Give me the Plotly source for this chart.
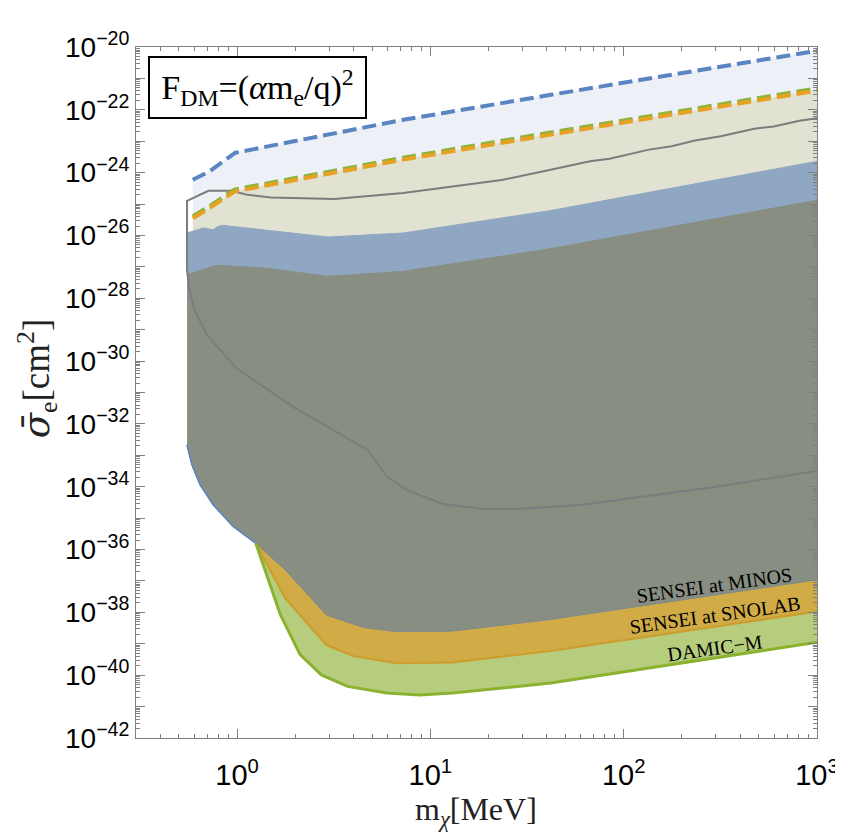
import numpy as np
import plotly.graph_objects as go

# ---------------- data ----------------
# upper (dashed) boundaries
bd_x = [0.59, 0.72, 0.98, 7.24, 41.9, 1000]
bd_y = [5.9e-25, 1.1e-24, 4.3e-24, 4.8e-23, 3.0e-22, 7.6e-21]          # SENSEI at MINOS (dashed)

od_x = [0.59, 0.70, 0.97, 7.24, 41.9, 1000]
od_y = [3.5e-26, 6.6e-26, 2.5e-25, 2.6e-24, 1.62e-23, 4.1e-22]         # SENSEI at SNOLAB (dashed)
gd_y = [4.1e-26, 7.7e-26, 2.9e-25, 3.0e-24, 1.9e-23, 4.8e-22]          # DAMIC-M (dashed)

# top of blue band (SENSEI at MINOS ceiling)
bt_x = [0.553, 0.591, 0.670, 0.753, 0.798, 0.847, 1.406, 2.95, 7.24, 41.9, 1000]
bt_y = [1.2e-26, 1.35e-26, 1.74e-26, 1.51e-26, 1.95e-26, 2.09e-26, 1.51e-26, 8.9e-27, 1.2e-26, 6.2e-26, 2.3e-24]

# top of grey (overlap) region
gt_x = [0.551, 0.783, 1.406, 2.95, 7.24, 41.9, 1000]
gt_y = [5.6e-28, 1.12e-27, 9.1e-28, 5.0e-28, 7.2e-28, 3.8e-27, 1.32e-25]

# floors (sensitivity)
mf_x = [0.551, 0.584, 0.644, 0.753, 0.953, 1.25, 1.778, 2.90, 4.54, 6.70, 13.0, 41.9, 1000]
mf_y = [2.14e-33, 5.0e-34, 1.15e-34, 2.63e-35, 5.5e-36, 1.58e-36, 2.24e-37, 8.3e-39, 3.3e-39,
        2.45e-39, 2.57e-39, 6.0e-39, 1.10e-37]                        # SENSEI at MINOS

sf_x = [1.25, 1.778, 2.90, 4.03, 6.70, 13.0, 41.9, 1000]
sf_y = [1.58e-36, 2.8e-38, 9.1e-40, 4.0e-40, 2.4e-40, 2.57e-40, 5.9e-40, 1.07e-38]  # SENSEI at SNOLAB

df_x = [1.25, 1.677, 2.12, 2.73, 3.73, 5.96, 8.81, 13.0, 41.9, 1000]
df_y = [1.58e-36, 8.3e-39, 4.5e-40, 1.02e-40, 4.4e-41, 2.7e-41, 2.35e-41, 2.7e-41, 5.6e-41, 1.12e-39]  # DAMIC-M

# grey contour
gc_x = [1000, 811, 598, 473, 318, 234, 177, 135, 84.6, 67.0, 41.9, 23.4, 7.24, 3.19, 1.492, 1.113,
        0.934, 0.711, 0.551, 0.551, 0.565, 0.596, 0.697, 0.990, 1.406, 2.00, 4.72, 5.94, 7.51,
        11.6, 18.5, 29.5, 59.6, 131, 283, 620, 1000]
gc_y = [5.4e-23, 4.5e-23, 2.95e-23, 2.5e-23, 1.45e-23, 1.05e-23, 6.9e-24, 5.4e-24, 2.75e-24, 2.3e-24,
        1.23e-24, 5.8e-25, 2.24e-25, 1.45e-25, 1.62e-25, 2.0e-25, 2.63e-25, 2.63e-25, 1.26e-25,
        7.9e-28, 2.14e-28, 4.9e-29, 6.9e-30, 6.0e-31, 1.38e-31, 3.16e-32, 1.51e-33, 2.19e-34,
        7.9e-35, 2.8e-35, 2.0e-35, 2.0e-35, 2.63e-35, 4.9e-35, 9.5e-35, 2.0e-34, 3.2e-34]

labels = ["SENSEI at MINOS", "SENSEI at SNOLAB", "DAMIC\u2212M"]
label_x = [296, 296, 296]
label_y = [7.4e-38, 8.1e-39, 7.2e-40]

x_ticks = [1, 10, 100, 1000]
x_ticktext = ["10<sup>0</sup>", "10<sup>1</sup>", "10<sup>2</sup>", "10<sup>3</sup>"]
y_exps = list(range(-42, -19))

# ---------------- styles ----------------
C_LIGHT = "#EDF1F7"
C_BEIGE = "#E2E2D3"
C_BLUE = "#8FA7C2"
C_GREY = "#888E82"
C_ORANGE = "#D1AB46"
C_GREEN = "#B7CD7E"

fig = go.Figure()


def poly(tx, ty, bx, by, color):
    xs = list(tx) + list(bx)[::-1]
    ys = list(ty) + list(by)[::-1]
    fig.add_trace(go.Scatter(x=xs, y=ys, fill="toself", fillcolor=color, mode="lines",
                             line=dict(color=color, width=1), hoverinfo="skip", showlegend=False))


def sub(xs, ys, xmin):
    pairs = [(a, b) for a, b in zip(xs, ys) if a >= xmin]
    return [p[0] for p in pairs], [p[1] for p in pairs]


btx59, bty59 = sub(bt_x, bt_y, 0.59)
mfx125, mfy125 = sub(mf_x, mf_y, 1.25)

poly(bd_x, bd_y, btx59, bty59, C_LIGHT)
poly(od_x, od_y, btx59, bty59, C_BEIGE)
poly(bt_x, bt_y, gt_x, gt_y, C_BLUE)
poly(mfx125, mfy125, df_x, df_y, C_GREEN)
poly(mfx125, mfy125, sf_x, sf_y, C_ORANGE)
poly(gt_x, gt_y, mf_x, mf_y, C_GREY)

# floor lines
fig.add_trace(go.Scatter(x=mf_x, y=mf_y, mode="lines", line=dict(color="#7F8B8C", width=1),
                         hoverinfo="skip", showlegend=False))
fig.add_trace(go.Scatter(x=mf_x[:6], y=mf_y[:6], mode="lines", line=dict(color="#5E86C2", width=1.6),
                         hoverinfo="skip", showlegend=False))
fig.add_trace(go.Scatter(x=sf_x, y=sf_y, mode="lines", line=dict(color="#CC9E2E", width=2.2),
                         hoverinfo="skip", showlegend=False))
fig.add_trace(go.Scatter(x=df_x, y=df_y, mode="lines", line=dict(color="#8BB22F", width=3),
                         hoverinfo="skip", showlegend=False))

# grey contour
fig.add_trace(go.Scatter(x=gc_x, y=gc_y, mode="lines", line=dict(color="#7C7C7E", width=2),
                         hoverinfo="skip", showlegend=False))

# dashed ceilings
fig.add_trace(go.Scatter(x=bd_x, y=bd_y, mode="lines", line=dict(color="#5B84C2", width=4, dash="14px,6px"),
                         hoverinfo="skip", showlegend=False))
fig.add_trace(go.Scatter(x=od_x, y=gd_y, mode="lines", line=dict(color="#8DB43A", width=4, dash="14px,6px"),
                         hoverinfo="skip", showlegend=False))
fig.add_trace(go.Scatter(x=od_x, y=od_y, mode="lines", line=dict(color="#E7A125", width=4, dash="14px,6px"),
                         hoverinfo="skip", showlegend=False))

for t, lx, ly in zip(labels, label_x, label_y):
    fig.add_annotation(x=np.log10(lx), y=np.log10(ly), xref="x", yref="y", text=t, showarrow=False,
                       textangle=-8, font=dict(family="Liberation Serif", size=20, color="black"))

# formula box
fig.add_annotation(x=0.0173, y=0.987, xref="paper", yref="paper", xanchor="left", yanchor="top",
                   text="F<sub>DM</sub>=(<i>\u03b1</i>m<sub>e</sub>/q)<sup>2</sup>", showarrow=False,
                   font=dict(family="Liberation Serif", size=34, color="black"),
                   bgcolor="white", bordercolor="black", borderwidth=2, borderpad=2,
                   width=211, height=55)

# axis titles
fig.add_annotation(x=0.4993, y=-0.106, xref="paper", yref="paper", xanchor="center", yanchor="middle",
                   text="m<sub><i>\u03c7</i></sub>[MeV]", showarrow=False,
                   font=dict(family="Liberation Serif", size=32, color="#222"))
fig.add_annotation(x=-0.146, y=0.52, xref="paper", yref="paper", xanchor="center", yanchor="middle",
                   textangle=-90,
                   text="<span style='font-family:DejaVu Serif'><i>\u03c3\u0304</i></span><sub>e</sub>[cm<sup>2</sup>]",
                   showarrow=False, font=dict(family="Liberation Serif", size=37, color="#222"))

x_minor = [k * 10.0 ** d for d in range(-1, 3) for k in range(2, 10) if 0.3 <= k * 10.0 ** d <= 1000]
y_minor = [k * 10.0 ** d for d in range(-42, -20) for k in range(2, 10)]

fig.update_xaxes(type="log", range=[np.log10(0.3), 3], tickmode="array", tickvals=x_ticks,
                 ticktext=x_ticktext, ticks="inside", ticklen=9, tickwidth=1, tickcolor="#808080",
                 showline=True, linecolor="#808080", linewidth=1, mirror="allticks", showgrid=False,
                 zeroline=False, tickfont=dict(family="Liberation Sans", size=29, color="black"),
                 ticklabelstandoff=11,
                 minor=dict(tickvals=x_minor, ticks="inside", ticklen=4, tickcolor="#808080", showgrid=False))

fig.update_yaxes(type="log", range=[-42, -20], tickmode="array", tickvals=[10.0 ** e for e in y_exps],
                 ticktext=[("10<sup>\u2212%d</sup>" % (-e)) if e % 2 == 0 else "" for e in y_exps],
                 ticks="inside", ticklen=9, tickwidth=1, tickcolor="#808080",
                 showline=True, linecolor="#808080", linewidth=1, mirror="allticks", showgrid=False,
                 zeroline=False, tickfont=dict(family="Liberation Sans", size=28, color="black"),
                 minor=dict(tickvals=y_minor, ticks="inside", ticklen=4, tickcolor="#808080", showgrid=False))

fig.update_layout(width=843, height=833, margin=dict(l=128, r=22, t=39, b=103),
                  plot_bgcolor="white", paper_bgcolor="white", showlegend=False)

fig.write_html("out.html")
